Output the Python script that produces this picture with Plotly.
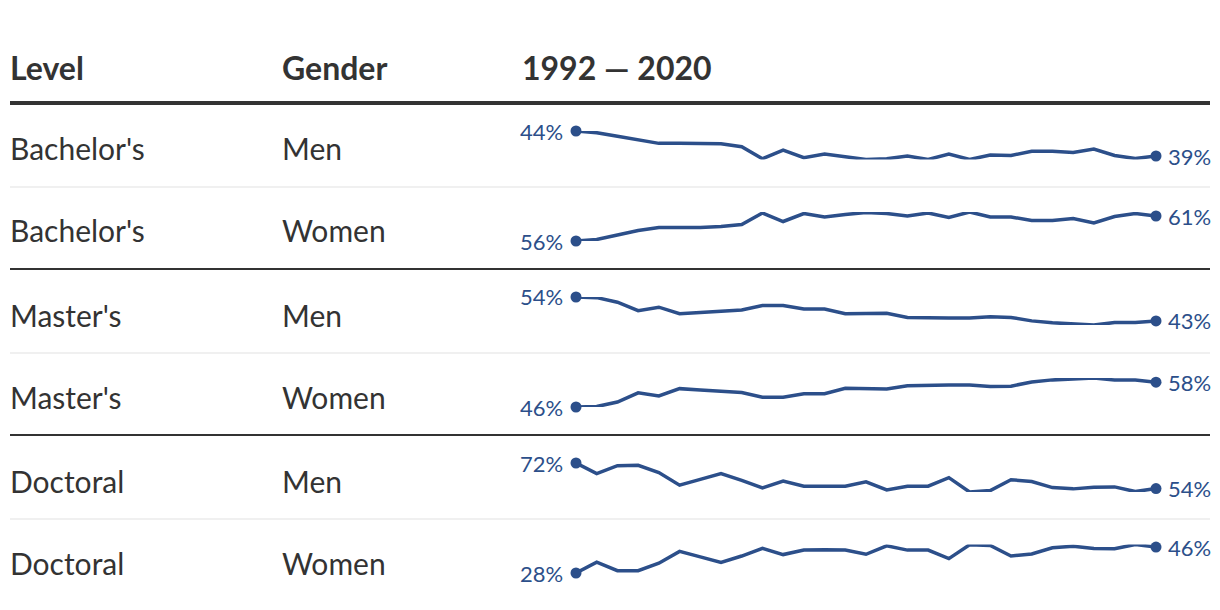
import plotly.graph_objects as go

years = list(range(1992, 2021))

levels = ["Bachelor's", "Bachelor's", "Master's", "Master's", "Doctoral", "Doctoral"]
genders = ["Men", "Women", "Men", "Women", "Men", "Women"]

bachelors_men = [44.0, 43.66, 42.97, 42.22, 41.53, 41.53, 41.53, 41.47, 40.85, 38.45,
                 40.16, 38.66, 39.4, 38.8, 38.3, 38.45, 39.0, 38.3, 39.4, 38.3,
                 39.2, 39.1, 39.95, 39.95, 39.7, 40.4, 39.1, 38.5, 39.0]
bachelors_women = [56.0, 56.3, 57.2, 58.1, 58.7, 58.7, 58.7, 58.9, 59.3, 61.6,
                   59.9, 61.5, 60.8, 61.3, 61.7, 61.5, 61.0, 61.6, 60.7, 61.8,
                   60.8, 60.8, 60.1, 60.1, 60.5, 59.6, 60.9, 61.5, 61.0]
masters_men = [54.0, 53.7, 51.6, 47.7, 49.3, 46.3, 46.9, 47.6, 48.0, 50.1,
               50.1, 48.5, 48.5, 46.3, 46.3, 46.5, 44.6, 44.3, 44.3, 44.3,
               44.9, 44.6, 43.0, 42.1, 41.7, 41.1, 42.2, 42.2, 43.0]
masters_women = [46.0, 46.2, 48.4, 52.8, 51.3, 54.8, 54.1, 53.5, 52.9, 50.7,
                 50.7, 52.4, 52.4, 55.0, 54.8, 54.6, 56.2, 56.5, 56.5, 56.5,
                 55.8, 56.0, 58.0, 59.0, 59.4, 59.9, 58.9, 58.9, 57.9]
doctoral_men = [72.0, 64.6, 70.1, 70.4, 65.3, 56.4, 60.5, 64.6, 59.8, 54.5,
                59.3, 55.7, 55.7, 55.7, 58.8, 53.1, 55.7, 55.7, 61.7, 51.6,
                52.6, 60.2, 59.0, 54.7, 53.8, 55.0, 55.2, 51.9, 54.0]
doctoral_women = [28.0, 35.5, 29.6, 29.6, 34.8, 43.0, 39.2, 35.3, 39.8, 45.1,
                  40.8, 43.9, 44.2, 43.9, 41.0, 46.9, 43.9, 43.9, 38.0, 47.6,
                  47.1, 39.8, 41.2, 45.5, 46.5, 45.1, 44.9, 47.8, 46.0]

series = [bachelors_men, bachelors_women, masters_men, masters_women, doctoral_men, doctoral_women]

headers = ["Level", "Gender", "1992 — 2020"]

# ---- layout geometry (pixels) ----
W, H = 1220, 610
row_tops = [103, 187, 269, 353, 435, 519]
band_offsets = [(28, 56.5), (25, 54), (28, 56), (25, 54), (28, 57), (25.5, 54)]
text_offsets = [45.5, 43.5, 45.5, 43.5, 45.5, 43.5]
spark_x0, spark_x1 = 576, 1156
col_x = [8, 280, 520]

LINE = "#2c4f8a"
TEXT = "#333333"
FONT = "Lato"


def py(px):
    return 1 - px / H


fig = go.Figure()
annotations = []
shapes = []

for i, vals in enumerate(series):
    n = i + 1
    xa = "x" if n == 1 else f"x{n}"
    ya = "y" if n == 1 else f"y{n}"
    fig.add_trace(go.Scatter(x=years, y=vals, mode="lines", xaxis=xa, yaxis=ya,
                             line=dict(color=LINE, width=3.5), hoverinfo="skip",
                             cliponaxis=False, showlegend=False))
    fig.add_trace(go.Scatter(x=[years[0], years[-1]], y=[vals[0], vals[-1]], mode="markers",
                             xaxis=xa, yaxis=ya, marker=dict(color=LINE, size=11),
                             cliponaxis=False, hoverinfo="skip", showlegend=False))
    top = row_tops[i]
    b0, b1 = band_offsets[i]
    dom = [py(top + b1), py(top + b0)]
    axkey = "" if n == 1 else str(n)
    fig.update_layout(**{
        f"xaxis{axkey}": dict(domain=[spark_x0 / W, spark_x1 / W], range=[years[0], years[-1]],
                              visible=False, fixedrange=True, anchor=ya),
        f"yaxis{axkey}": dict(domain=dom, range=[min(vals), max(vals)], visible=False,
                              fixedrange=True, anchor=xa),
    })
    annotations.append(dict(xref=xa, yref=ya, x=years[0], y=vals[0], text=f"{vals[0]:.0f}%",
                            xanchor="right", yanchor="middle", xshift=-11, showarrow=False,
                            font=dict(family=FONT, size=22, color=LINE)))
    annotations.append(dict(xref=xa, yref=ya, x=years[-1], y=vals[-1], text=f"{vals[-1]:.0f}%",
                            xanchor="left", yanchor="middle", xshift=10, showarrow=False,
                            font=dict(family=FONT, size=22, color=LINE)))
    ty = top + text_offsets[i]
    annotations.append(dict(xref="paper", yref="paper", x=col_x[0] / W, y=py(ty), text=levels[i],
                            xanchor="left", yanchor="middle", showarrow=False,
                            font=dict(family=FONT, size=30, color=TEXT)))
    annotations.append(dict(xref="paper", yref="paper", x=col_x[1] / W, y=py(ty), text=genders[i],
                            xanchor="left", yanchor="middle", showarrow=False,
                            font=dict(family=FONT, size=30, color=TEXT)))
    # separators
    if i > 0:
        same_level = levels[i] == levels[i - 1]
        shapes.append(dict(type="line", xref="paper", yref="paper", x0=10 / W, x1=1210 / W,
                           y0=py(top), y1=py(top),
                           line=dict(color="#ebebeb" if same_level else TEXT,
                                     width=1.5 if same_level else 2)))

for j, h in enumerate(headers):
    annotations.append(dict(xref="paper", yref="paper", x=col_x[j] / W, y=py(68), text=f"<b>{h}</b>",
                            xanchor="left", yanchor="middle", showarrow=False,
                            font=dict(family=FONT, size=32, color=TEXT)))

shapes.append(dict(type="line", xref="paper", yref="paper", x0=10 / W, x1=1210 / W,
                   y0=py(103), y1=py(103), line=dict(color=TEXT, width=4)))

fig.update_layout(width=W, height=H, margin=dict(l=0, r=0, t=0, b=0),
                  paper_bgcolor="white", plot_bgcolor="white",
                  annotations=annotations, shapes=shapes)

fig.write_html("out.html", config={"displayModeBar": False},
               post_script="document.body.style.margin='0';document.body.style.padding='0';")
